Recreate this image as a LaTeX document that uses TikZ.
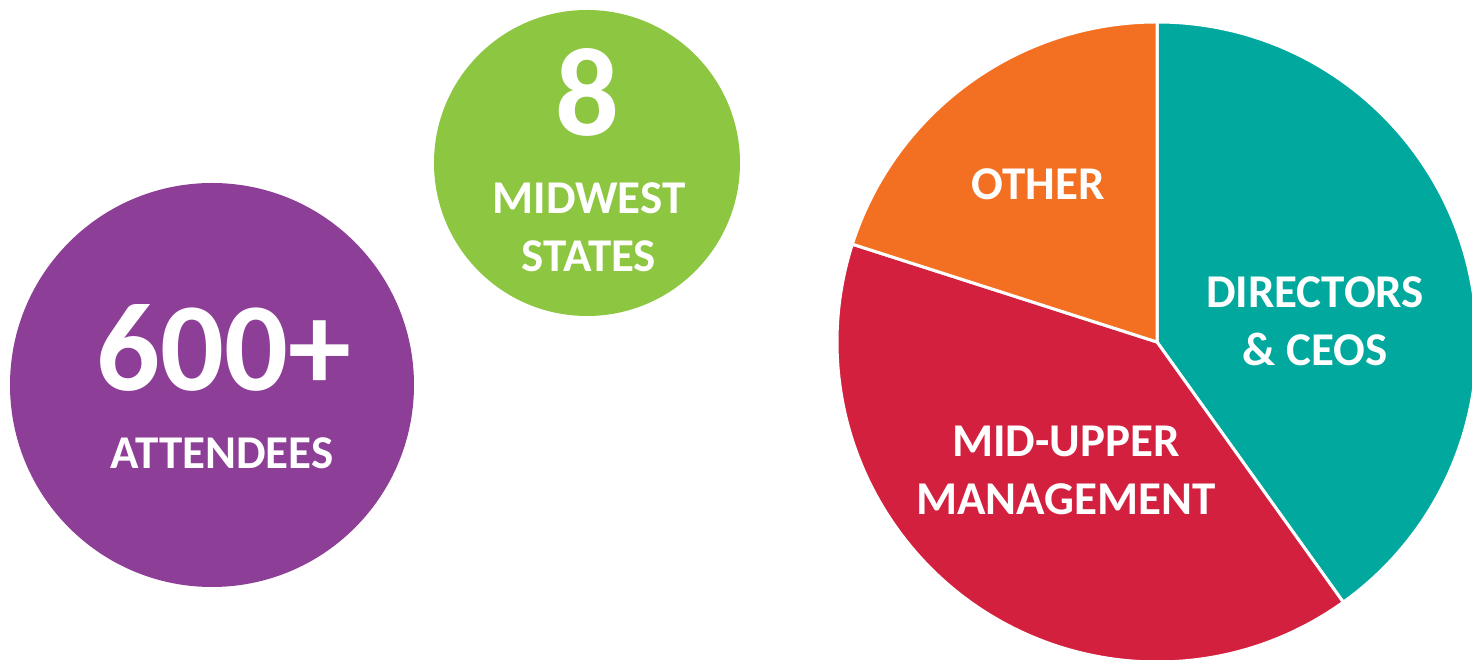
\documentclass[tikz,border=0pt]{standalone}
\usepackage{fontspec}
\setmainfont{Carlito}
\definecolor{plum}{HTML}{8D3E96}
\definecolor{lime}{HTML}{8DC641}
\definecolor{seagreen}{HTML}{00A89D}
\definecolor{crimson}{HTML}{D2203E}
\definecolor{tangerine}{HTML}{F37022}

\begin{document}
\begin{tikzpicture}
[x=1pt, y=1pt, every node/.style={inner sep=0pt, text=white},
 bubble/.style={circle, draw=none},
 bignum/.style={font=\fontsize{126}{130}\selectfont\bfseries},
 lbl/.style={align=center, font=\fontsize{47}{58}\selectfont\bfseries},
 slice/.style={draw=white, line width=3pt}]
\useasboundingbox (0,0) rectangle (1472,660);
\clip (0,0) rectangle (1472,660);

\node (attendees) [bubble, fill=plum, minimum size=404pt] at (212,275) {};
\node (states) [bubble, fill=lime, minimum size=306pt] at (587,497) {};

\coordinate (pie) at (1157,318);
\filldraw [slice, fill=seagreen] (pie) -- ++(90:320pt) arc[start angle=90, end angle=-54.4, radius=320pt] -- cycle;
\filldraw [slice, fill=crimson] (pie) -- ++(-54.4:320pt) arc[start angle=-54.4, end angle=-197.8, radius=320pt] -- cycle;
\filldraw [slice, fill=tangerine] (pie) -- ++(162.2:320pt) arc[start angle=162.2, end angle=90, radius=320pt] -- cycle;

\node (n600) [bignum] at (224,312) {600+};
\node (attlbl) [lbl] at (222,207) {ATTENDEES};
\node (n8) [bignum] at (587,568) {8};
\node (statelbl) [lbl] at (589,433) {MIDWEST\\STATES};
\node (other) [lbl] at (1038,476) {OTHER};
\node (directors) [lbl] at (1315,339) {DIRECTORS\\\& CEOS};
\node (midupper) [lbl] at (1066,190) {MID-UPPER\\MANAGEMENT};

\end{tikzpicture}
\end{document}
